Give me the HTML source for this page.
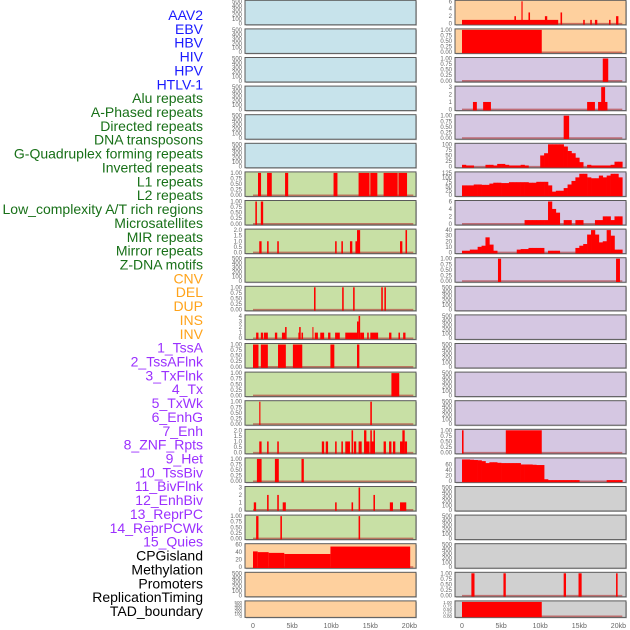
<!DOCTYPE html>
<html><head><meta charset="utf-8"><style>
html,body{margin:0;padding:0;background:#fff;}
svg{display:block;font-family:"Liberation Sans",sans-serif;}
</style></head><body>
<svg id="chart" width="630" height="630" viewBox="0 0 630 630" xmlns="http://www.w3.org/2000/svg">
<g id="labels"></g>
<g id="panels"></g>
<g id="xaxes"></g>
</svg>
<script>
const trackLabels = ["AAV2","EBV","HBV","HIV","HPV","HTLV-1","Alu repeats","A-Phased repeats","Directed repeats","DNA transposons","G-Quadruplex forming repeats","Inverted repeats","L1 repeats","L2 repeats","Low_complexity A/T rich regions","Microsatellites","MIR repeats","Mirror repeats","Z-DNA motifs","CNV","DEL","DUP","INS","INV","1_TssA","2_TssAFlnk","3_TxFlnk","4_Tx","5_TxWk","6_EnhG","7_Enh","8_ZNF_Rpts","9_Het","10_TssBiv","11_BivFlnk","12_EnhBiv","13_ReprPC","14_ReprPCWk","15_Quies","CPGisland","Methylation","Promoters","ReplicationTiming","TAD_boundary"];
const labelGroups = [6,13,5,15,5];
const xTickLabels = ["0","5kb","10kb","15kb","20kb"];
const xTickValues = [0,5,10,15,20];

// Y tick sets
const ticksEmpty = [0,100,200,300,400,500];
const ticksUnit = ["0.00","0.25","0.50","0.75","1.00"];
const ticks2 = ["0.0","0.5","1.0","1.5","2.0"];
const ticks4 = [0,1,2,3,4];
const ticks3 = [0,1,2,3];
const ticks6 = [0,2,4,6];
const ticks40 = [0,10,20,30,40];
const ticks100 = [0,25,50,75,100];
const ticks125 = [0,25,50,75,100,125];
const ticks60 = [0,20,40,60];

// Segment data [startKb, endKb, value]
const segL6 = [[0.64,1.03,1],[1.8,2.4,1],[4.1,4.5,1],[10.3,10.8,1],[13.5,14.9,1],[15.0,15.9,1],[16.7,18.5,1],[18.6,19.7,1]];
const segL7 = [[0.3,0.5,1],[1.0,1.3,1]];
const segL8 = [[0.8,1.1,1],[1.8,2.0,1],[3.1,3.3,1],[10.5,10.7,1],[11.3,11.5,1],[12.4,12.7,1],[13.1,13.3,1],[13.3,13.7,2],[18.8,19.1,1],[19.5,19.7,2]];
const segL10 = [[7.8,8.0,1],[11.4,11.6,1],[12.8,13.0,1],[16.4,16.6,1],[16.8,17.0,1]];
const segL11 = [[0.4,0.7,1],[1.0,1.3,1],[1.4,1.9,1],[2.8,3.1,1],[3.7,4.1,1],[4.1,4.3,2],[5.8,6.0,1],[5.9,6.1,2],[6.2,6.4,1],[7.6,7.7,2],[7.9,8.3,1],[8.6,9.1,1],[9.6,9.9,1],[10.5,11.1,1],[11.8,13.3,1],[13.3,13.5,3],[13.5,13.7,4],[13.7,14.2,1],[14.6,14.8,1],[15.0,16.0,1],[17.4,17.7,1],[18.6,18.8,1],[19.2,19.5,1]];
const segL12 = [[0,0.7,1],[1.0,1.9,1],[3.2,4.2,1],[5.1,6.3,1],[9.9,10.4,1],[13.3,13.6,1]];
const segL13 = [[17.7,18.7,1]];
const segL14 = [[0.8,0.95,1],[15.0,15.2,1]];
const segL15 = [[0.8,1.1,1],[1.8,2.0,1],[3.1,3.3,1],[8.8,9.1,1],[9.3,9.6,1],[10.5,10.7,1],[11.3,11.5,1],[11.8,12.4,1],[12.6,12.8,2],[12.9,13.2,1],[13.5,13.9,1],[14.2,14.5,2],[14.4,14.9,1],[15.0,15.2,2],[15.0,15.6,1],[15.4,15.6,2],[16.7,17.0,1],[17.4,17.7,1],[17.9,18.2,1],[18.8,19.4,1],[19.1,19.4,2],[19.4,19.7,1]];
const segL16 = [[0.5,1.1,1],[2.8,3.3,1],[6.2,6.5,1]];
const segL17 = [[0.1,0.4,1],[1.8,2.0,2],[3.1,3.3,2],[3.8,4.2,1],[10.5,10.7,1],[12.6,12.8,1],[13.5,13.7,3],[15.4,15.6,2],[17.5,17.9,1],[18.8,19.6,1]];
const segL18 = [[0.4,0.7,1],[3.5,3.7,1],[13.5,13.7,1]];
const segL19 = [[0,0.6,42],[0.6,2.0,40],[2.0,4.0,38],[4.0,9.9,35],[9.9,20.1,55]];

const segR0 = [[0,12.3,1],[6.7,6.9,2],[7.6,7.75,6],[8.5,8.7,3],[10.6,10.9,2],[12.6,12.8,3],[15.5,15.7,1],[16.4,16.6,1],[17.0,17.3,1],[18.8,19.0,1],[19.7,20.0,2]];
const segR1 = [[0,10.2,1]];
const segR2 = [[18.0,18.7,1]];
const segR3 = [[1.4,1.9,1],[2.7,3.7,1],[16.0,17.0,1],[17.4,18.6,1],[17.8,18.3,3]];
const segR4 = [[13.0,13.7,1]];
const segR9 = [[4.6,5.0,1],[19.7,20.2,1]];
const segR15 = [[0,0.2,1],[5.6,10.2,1]];
const segR20 = [[1.2,1.6,1],[5.3,5.6,1],[13.0,13.3,1],[14.9,15.3,1],[19.7,19.9,1]];
const segR21 = [[0,10.2,1]];

// Profile data (0.5 kb bins starting at 0)
const profR5 = [8,5,5,0,0,0,8,8,5,12,12,8,5,5,5,8,5,0,0,0,50,60,100,100,100,100,90,70,60,40,20,0,8,5,5,5,5,5,8,22,22];
const profR6 = [55,55,55,60,60,58,58,65,70,70,68,68,73,73,73,73,73,70,70,75,75,75,55,20,25,25,40,60,80,100,120,120,100,95,95,110,100,110,120,120,100];
const profR7 = [0,0,0,0,0,0,0,0,0,0,0,0,0,0,0,0,1,1,1,1,1,1,6,4,3,0,1,1,0,1,1,0,0,0,1,1,2,2,1,2,2];
const profR8 = [3,3,5,5,10,12,27,14,3,0,0,0,0,0,5,6,6,8,8,8,8,0,3,3,3,0,0,0,0,8,12,15,32,40,32,18,20,40,30,5,5];
const profR16 = [78,78,77,76,75,72,65,68,68,66,65,65,65,65,65,60,60,60,59,58,58,7,4,4,4,4,4,4,4,4,0,0,0,0,0,0,0,4,4,4,4];

const leftBg = ["#c7e3eb","#c7e3eb","#c7e3eb","#c7e3eb","#c7e3eb","#c7e3eb","#c8e0a5","#c8e0a5","#c8e0a5","#c8e0a5","#c8e0a5","#c8e0a5","#c8e0a5","#c8e0a5","#c8e0a5","#c8e0a5","#c8e0a5","#c8e0a5","#c8e0a5","#fed09e","#fed09e","#fed09e"];
const rightBg = ["#fed09e","#fed09e","#d5c7e2","#d5c7e2","#d5c7e2","#d5c7e2","#d5c7e2","#d5c7e2","#d5c7e2","#d5c7e2","#d5c7e2","#d5c7e2","#d5c7e2","#d5c7e2","#d5c7e2","#d5c7e2","#d5c7e2","#d0d0d0","#d0d0d0","#d0d0d0","#d0d0d0","#d0d0d0"];

const E = {ticks: ticksEmpty, max: 500};
const U = {ticks: ticksUnit, max: 1};
const leftTracks = [E,E,E,E,E,E,
 {ticks:ticksUnit,max:1,seg:segL6},{ticks:ticksUnit,max:1,seg:segL7},{ticks:ticks2,max:2,seg:segL8},E,
 {ticks:ticksUnit,max:1,seg:segL10},{ticks:ticks4,max:4,seg:segL11},{ticks:ticksUnit,max:1,seg:segL12},
 {ticks:ticksUnit,max:1,seg:segL13},{ticks:ticksUnit,max:1,seg:segL14},{ticks:ticks2,max:2,seg:segL15},
 {ticks:ticksUnit,max:1,seg:segL16},{ticks:ticks3,max:3,seg:segL17},{ticks:ticksUnit,max:1,seg:segL18},
 {ticks:ticks60,max:60,seg:segL19},E,E];
const rightTracks = [{ticks:ticks6,max:6,seg:segR0},{ticks:ticksUnit,max:1,seg:segR1},{ticks:ticksUnit,max:1,seg:segR2},
 {ticks:ticks3,max:3,seg:segR3},{ticks:ticksUnit,max:1,seg:segR4},{ticks:ticks100,max:100,prof:profR5},
 {ticks:ticks125,max:125,prof:profR6},{ticks:ticks6,max:6,prof:profR7},{ticks:ticks40,max:40,prof:profR8},
 {ticks:ticksUnit,max:1,seg:segR9},E,E,E,E,E,{ticks:ticksUnit,max:1,seg:segR15},
 {ticks:ticks60,max:80,prof:profR16},E,E,E,{ticks:ticksUnit,max:1,seg:segR20},{ticks:ticksUnit,max:1,seg:segR21}];

const NS = "http://www.w3.org/2000/svg";
function mk(tag, attrs, parent){const el=document.createElementNS(NS,tag);for(const k in attrs)el.setAttribute(k,attrs[k]);parent.appendChild(el);return el;}

// labels
const colors = ["#1a1aff","#187018","#ffa31a","#9b30ff","#000000"];
const lg = document.getElementById("labels");
let gi=0, cnt=0;
trackLabels.forEach((t,i)=>{
  if(cnt>=labelGroups[gi]){gi++;cnt=0;}
  cnt++;
  const el = mk("text",{x:203,y:15+i*13.86+5,"text-anchor":"end","font-size":"14",fill:colors[gi]},lg);
  el.textContent=t;
  
  
});

const pg = document.getElementById("panels");
function rowTop(i){return 0.3+28.6*i;}
function rowH(i){return i===21?16.5:24.5;}

function drawPanel(track, bg, i, fx0, fx1, zx){
  const top=rowTop(i), h=rowH(i), bot=top+h;
  const g = mk("g",{},pg);
  
  
  const sx = kb=>zx+kb*7.82;
  const y0 = bot-1.2, y1 = top+1;
  const sy = v=>y0-(v/track.max)*(y0-y1);
  mk("rect",{x:fx0+1,y:top+1,width:fx1-fx0,height:h,fill:"#c8c8c8"},g);
  const r = mk("rect",{x:fx0,y:top,width:fx1-fx0,height:h,fill:bg,stroke:"#5a5a5a","stroke-width":1},g);
  
  
  // ticks
  const n=track.ticks.length;
  track.ticks.forEach((t,k)=>{
    const v = (track.max/(n-1))*k;
    let yy;
    if(track.ticks===ticks60 && track.max===80) yy = sy(t);
    else yy = y0-(k/(n-1))*(y0-y1);
    const tx = mk("text",{x:fx0-3,y:yy+2,"text-anchor":"end","font-size":h<20?"4.5":"6",fill:"#666"},g);
    tx.textContent=t;
    
    
  });
  const hasData = track.seg||track.prof;
  if(hasData){
    const bl = mk("line",{x1:sx(0),x2:sx(20.5),y1:y0,y2:y0,stroke:"#b03030","stroke-width":1.5,"stroke-opacity":0.6},g);
    
    
  }
  if(track.seg){
    track.seg.forEach(s=>{
      const b = mk("rect",{x:sx(s[0]),y:sy(s[2]),width:Math.max(1,sx(s[1])-sx(s[0])),height:y0-sy(s[2])+1,fill:"#ff0000"},g);
      
      
    });
  }
  if(track.prof){
    track.prof.forEach((v,k)=>{
      if(v<=0) return;
      const b = mk("rect",{x:sx(k*0.5),y:sy(v),width:sx((k+1)*0.5)-sx(k*0.5)+0.3,height:y0-sy(v)+1,fill:"#ff0000"},g);
      
      
    });
  }
}
leftTracks.forEach((t,i)=>drawPanel(t,leftBg[i],i,245,416,253));
rightTracks.forEach((t,i)=>drawPanel(t,rightBg[i],i,455,626,462));

const xg = document.getElementById("xaxes");
[253,462].forEach(zx=>{
  xTickValues.forEach((v,k)=>{
    const t = mk("text",{x:zx+v*7.82,y:628,"text-anchor":"middle","font-size":"7",fill:"#666"},xg);
    t.textContent=xTickLabels[k];
    
    
  });
});
</script>
</body></html>
